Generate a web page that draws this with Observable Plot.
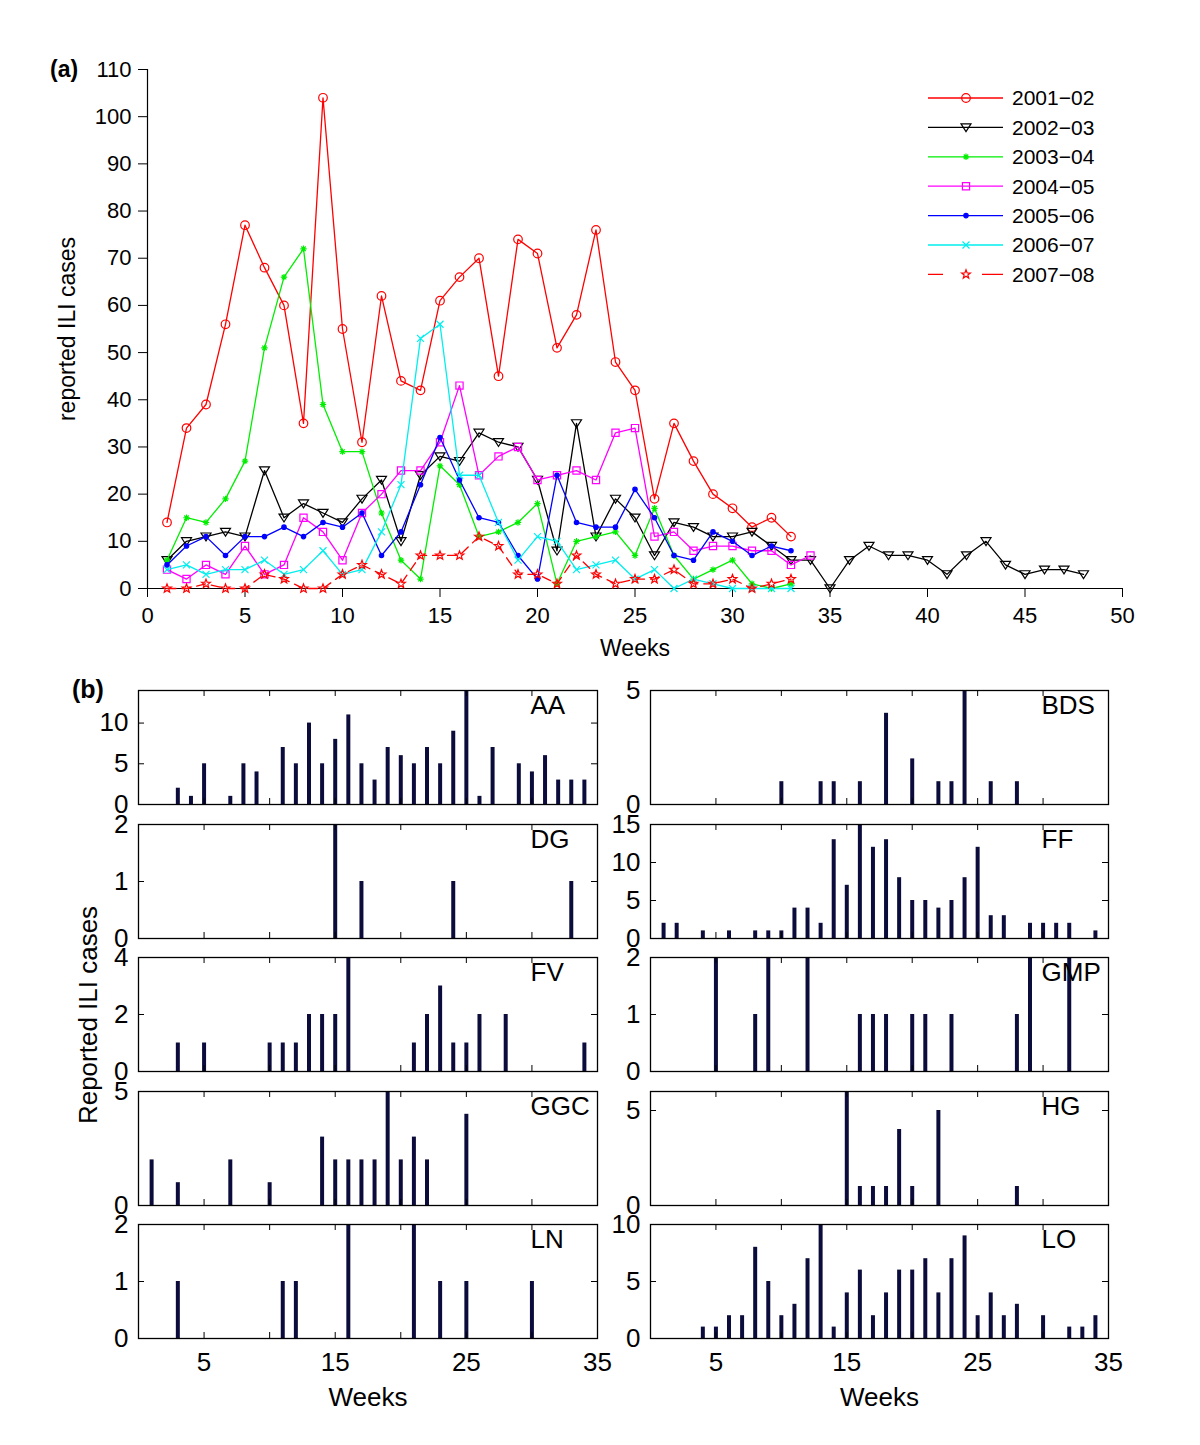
<!DOCTYPE html>
<html><head><meta charset="utf-8">
<script src="https://cdn.jsdelivr.net/npm/d3@7"></script>
<script src="https://cdn.jsdelivr.net/npm/@observablehq/plot@0.6"></script>
<style>
body{margin:0;background:#fff;}
#root{position:relative;width:1200px;height:1445px;background:#fff;overflow:hidden;}
#root svg{position:absolute;}
</style></head><body><div id="root"></div>
<script>
// ---------- Panel (a) data ----------
const weeks = [1,2,3,4,5,6,7,8,9,10,11,12,13,14,15,16,17,18,19,20,21,22,23,24,25,26,27,28,29,30,31,32,33,34,35,36,37,38,39,40,41,42,43,44,45,46,47,48];
const seasonNames = ["2001\u221202","2002\u221203","2003\u221204","2004\u221205","2005\u221206","2006\u221207","2007\u221208"];
const s0102 = [14,34,39,56,77,68,60,35,104,55,31,62,44,42,61,66,70,45,74,71,51,58,76,48,42,19,35,27,20,17,13,15,11];
const s0203 = [6,10,11,12,11,25,15,18,16,14,19,23,10,24,28,27,33,31,30,23,8,35,11,19,15,7,14,13,11,11,12,9,6,6,0,6,9,7,7,6,3,7,10,5,3,4,4,3];
const s0304 = [6,15,14,19,27,51,66,72,39,29,29,16,6,2,26,22,11,12,14,18,1,10,11,12,7,17,7,2,4,6,1,0,1];
const s0405 = [4,2,5,3,9,3,5,15,12,6,16,20,25,25,31,43,24,28,30,23,24,25,23,33,34,11,12,8,9,9,8,8,5,7];
const s0506 = [5,9,11,7,11,11,13,11,14,13,16,7,12,22,32,23,15,14,7,2,24,14,13,13,21,15,7,6,12,10,7,9,8];
const s0607 = [4,5,3,4,4,6,3,4,8,3,4,12,22,53,56,24,24,14,6,11,10,4,5,6,2,4,0,2,1,0,0,0,0];
const s0708 = [0,0,1,0,0,3,2,0,0,3,5,3,1,7,7,7,11,9,3,3,1,7,3,1,2,2,4,1,1,2,0,1,2];
const seriesValues = [s0102,s0203,s0304,s0405,s0506,s0607,s0708];
const xTicksA = [0,5,10,15,20,25,30,35,40,45,50];
const yTicksA = [0,10,20,30,40,50,60,70,80,90,100,110];

// ---------- Panel (b) data ----------
const stationNames = ["AA","BDS","DG","FF","FV","GMP","GGC","HG","LN","LO"];
const aaWeeks = [3,4,5,7,8,9,11,12,13,14,15,16,17,18,19,20,21,22,23,24,25,26,27,29,30,31,32,33,34];
const aaCases = [2,1,5,1,5,4,7,5,10,5,8,11,5,3,7,6,5,7,5,9,14,1,7,5,4,6,3,3,3];
const bdsWeeks = [10,13,14,16,18,20,22,23,24,26,28];
const bdsCases = [1,1,1,1,4,2,1,1,5,1,1];
const dgWeeks = [15,17,24,33];
const dgCases = [2,1,1,1];
const ffWeeks = [1,2,4,6,8,9,10,11,12,13,14,15,16,17,18,19,20,21,22,23,24,25,26,27,29,30,31,32,34];
const ffCases = [2,2,1,1,1,1,1,4,4,2,13,7,15,12,13,8,5,5,4,5,8,12,3,3,2,2,2,2,1];
const fvWeeks = [3,5,10,11,12,13,14,15,16,21,22,23,24,25,26,28,34];
const fvCases = [1,1,1,1,1,2,2,2,4,1,2,3,1,1,2,2,1];
const gmpWeeks = [5,8,9,12,16,17,18,20,21,23,28,29,32];
const gmpCases = [2,1,2,2,1,1,1,1,1,1,1,2,2];
const ggcWeeks = [1,3,7,10,14,15,16,17,18,19,20,21,22,25];
const ggcCases = [2,1,2,1,3,2,2,2,2,5,2,3,2,4];
const hgWeeks = [15,16,17,18,19,20,22,28];
const hgCases = [6,1,1,1,4,1,5,1];
const lnWeeks = [3,11,12,16,21,23,25,30];
const lnCases = [1,1,1,2,2,1,1,1];
const loWeeks = [4,5,6,7,8,9,10,11,12,13,14,15,16,17,18,19,20,21,22,23,24,25,26,27,28,30,32,33,34];
const loCases = [1,1,2,2,8,5,2,3,7,10,1,4,6,2,4,6,6,7,4,7,9,2,4,2,3,2,1,1,2];
const stationWeeks = [aaWeeks,bdsWeeks,dgWeeks,ffWeeks,fvWeeks,gmpWeeks,ggcWeeks,hgWeeks,lnWeeks,loWeeks];
const stationCases = [aaCases,bdsCases,dgCases,ffCases,fvCases,gmpCases,ggcCases,hgCases,lnCases,loCases];
const stationYTicks = [[0,5,10],[0,5],[0,1,2],[0,5,10,15],[0,2,4],[0,1,2],[0,5],[0,5],[0,1,2],[0,5,10]];
const innerXTicks = [5,10,15,20,25,30];
const bottomXTicks = [5,15,25,35];

// ---------- Styles ----------
const FONT = "'Liberation Sans', Arial, Helvetica, sans-serif";
const fmt = d => String(d);
const mk = f => ({draw(ctx, size){ f(ctx, Math.sqrt(size/Math.PI)); }});
const symCircle = mk((c,r)=>{c.moveTo(r,0); c.arc(0,0,r,0,2*Math.PI); c.closePath();});
const symTriDown = mk((c,r)=>{c.moveTo(-r,-0.72*r); c.lineTo(r,-0.72*r); c.lineTo(0,0.85*r); c.closePath();});
const symAster = mk((c,r)=>{c.moveTo(-r,0);c.lineTo(r,0);c.moveTo(0,-r);c.lineTo(0,r);const d=r*0.707;c.moveTo(-d,-d);c.lineTo(d,d);c.moveTo(-d,d);c.lineTo(d,-d);});
const symSquare = mk((c,r)=>{c.rect(-r,-r,2*r,2*r);});
const symTimes = mk((c,r)=>{c.moveTo(-r,-r);c.lineTo(r,r);c.moveTo(-r,r);c.lineTo(r,-r);});
const symStar = mk((c,r)=>{for(let k=0;k<10;k++){const a=-Math.PI/2+k*Math.PI/5;const rr=k%2?r*0.42:r;const x=rr*Math.cos(a),y=rr*Math.sin(a);k?c.lineTo(x,y):c.moveTo(x,y);}c.closePath();});
const seriesStyles = [
  {color:"#ff0000", symbol:symCircle, r:4.3, fill:"none", dash:null, legendDash:null},
  {color:"#000000", symbol:symTriDown, r:5, fill:"none", dash:null, legendDash:null},
  {color:"#00ee00", symbol:symAster, r:3.2, fill:"none", dash:null, legendDash:null},
  {color:"#ff00ff", symbol:symSquare, r:3.6, fill:"none", dash:null, legendDash:null},
  {color:"#0000ff", symbol:symCircle, r:2.2, fill:"#0000ff", dash:null, legendDash:null},
  {color:"#00eeee", symbol:symTimes, r:3.5, fill:"none", dash:null, legendDash:null},
  {color:"#ff0000", symbol:symStar, r:4.6, fill:"none", dash:"9,6", legendDash:"15,39,21"}
];
const BAR = "#0c0c3c";

const root = document.getElementById("root");

// ---------- Panel (a) ----------
const seriesMarks = [];
seriesValues.forEach((vals, i) => {
  const st = seriesStyles[i];
  const rows = vals.map((v, j) => ({week: weeks[j], value: v}));
  seriesMarks.push(Plot.line(rows, {x:"week", y:"value", stroke: st.color, strokeWidth: 1.3, strokeDasharray: st.dash}));
  seriesMarks.push(Plot.dot(rows, {x:"week", y:"value", symbol: st.symbol, r: st.r, stroke: st.color, fill: st.fill, strokeWidth: 1.2}));
});
const panelA = Plot.plot({
  width: 1200, height: 670,
  marginLeft: 147, marginRight: 78, marginTop: 69, marginBottom: 82,
  x: {domain: [0,50]}, y: {domain: [0,110]},
  style: {background: "transparent", fontFamily: FONT, fontSize: "22px", color: "#000", overflow: "visible"},
  marks: [
    Plot.axisX({ticks: xTicksA, tickFormat: fmt, tickSize: 9, tickPadding: 10, fontSize: 22, label: null}),
    Plot.axisY({ticks: yTicksA, tickFormat: fmt, tickSize: 9, tickPadding: 7, fontSize: 22, label: null}),
    Plot.ruleX([0], {stroke:"#000", strokeWidth: 1.2}),
    Plot.ruleY([0], {stroke:"#000", strokeWidth: 1.2}),
    ...seriesMarks,
    Plot.text(["Weeks"], {text: d=>d, frameAnchor:"bottom", textAnchor:"middle", lineAnchor:"top", dy: 51, fontSize: 23}),
    Plot.text(["reported ILI cases"], {text: d=>d, frameAnchor:"left", textAnchor:"middle", lineAnchor:"middle", rotate: -90, dx: -80, fontSize: 23})
  ]
});
panelA.style.left = "0px"; panelA.style.top = "0px";
root.appendChild(panelA);

// ---------- Panel (b) ----------
const rowTops = [690, 824, 957, 1091, 1224];
const H = 114;
stationNames.forEach((name, k) => {
  const col = k % 2, row = Math.floor(k / 2);
  const bottom = row === 4;
  const rows = stationWeeks[k].map((w, i) => ({week: w, cases: stationCases[k][i]}));
  const ymax = d3.max(stationCases[k]);
  const yt = stationYTicks[k];
  const ml = col === 0 ? 138 : 50;
  const W = col === 0 ? 459 : 458;
  const mt = 20, mb = bottom ? 90 : 20;
  const innerY = yt.filter(t => t > 0 && t < ymax);
  const marks = [
    Plot.ruleX(rows, {x:"week", y1: 0, y2:"cases", stroke: BAR, strokeWidth: 4}),
    Plot.tickX(innerXTicks, {x: d=>d, insetTop: H-6, stroke:"#000"}),
    Plot.tickX(innerXTicks, {x: d=>d, insetBottom: H-6, stroke:"#000"}),
    Plot.tickY(innerY, {y: d=>d, insetRight: W-6, stroke:"#000"}),
    Plot.tickY(innerY, {y: d=>d, insetLeft: W-6, stroke:"#000"}),
    Plot.frame({stroke:"#000", strokeWidth: 1.3}),
    Plot.axisY({ticks: yt, tickFormat: fmt, tickSize: 0, tickPadding: 10, fontSize: 26, label: null}),
    Plot.text([name], {text: d=>d, frameAnchor:"top-right", textAnchor:"start", lineAnchor:"top", dx: -67, dy: 5, fontSize: 26})
  ];
  if (bottom) {
    marks.push(Plot.axisX({ticks: bottomXTicks, tickFormat: fmt, tickSize: 0, tickPadding: 14, fontSize: 26, label: null}));
    marks.push(Plot.text(["Weeks"], {text: d=>d, frameAnchor:"bottom", textAnchor:"middle", lineAnchor:"top", dy: 49, fontSize: 26}));
  }
  const p = Plot.plot({
    width: 600, height: mt + H + mb,
    marginTop: mt, marginBottom: mb, marginLeft: ml, marginRight: 600 - ml - W,
    x: bottom ? {domain: [0,35]} : {domain: [0,35], axis: null},
    y: {domain: [0, ymax]},
    style: {background: "transparent", fontFamily: FONT, fontSize: "26px", color: "#000", overflow: "visible"},
    marks
  });
  p.style.left = (col === 0 ? 0 : 600) + "px";
  p.style.top = (rowTops[row] - mt) + "px";
  root.appendChild(p);
});

// ---------- Overlay: panel letters, shared label, legend ----------
const ov = d3.select(root).append("svg")
  .attr("width", 1200).attr("height", 1445)
  .style("left", "0px").style("top", "0px").style("pointer-events", "none")
  .attr("font-family", FONT);
ov.append("text").attr("x", 50).attr("y", 77).attr("font-size", 23).attr("font-weight", "bold").text("(a)");
ov.append("text").attr("x", 72).attr("y", 698).attr("font-size", 25).attr("font-weight", "bold").text("(b)");
ov.append("text").attr("transform", "translate(88,1015) rotate(-90)").attr("text-anchor", "middle")
  .attr("dy", "0.35em").attr("font-size", 26).text("Reported ILI cases");
seasonNames.forEach((n, i) => {
  const y = 98 + i * 29.4;
  const st = seriesStyles[i];
  ov.append("line").attr("x1", 928).attr("x2", 1003).attr("y1", y).attr("y2", y)
    .attr("stroke", st.color).attr("stroke-width", 1.3).attr("stroke-dasharray", st.legendDash);
  ov.append("path").attr("transform", `translate(966,${y})`)
    .attr("d", d3.symbol(st.symbol, st.r * st.r * Math.PI)())
    .attr("fill", st.fill).attr("stroke", st.color).attr("stroke-width", 1.2);
  ov.append("text").attr("x", 1012).attr("y", y).attr("dy", "0.35em").attr("font-size", 21).text(n);
});
</script></body></html>
